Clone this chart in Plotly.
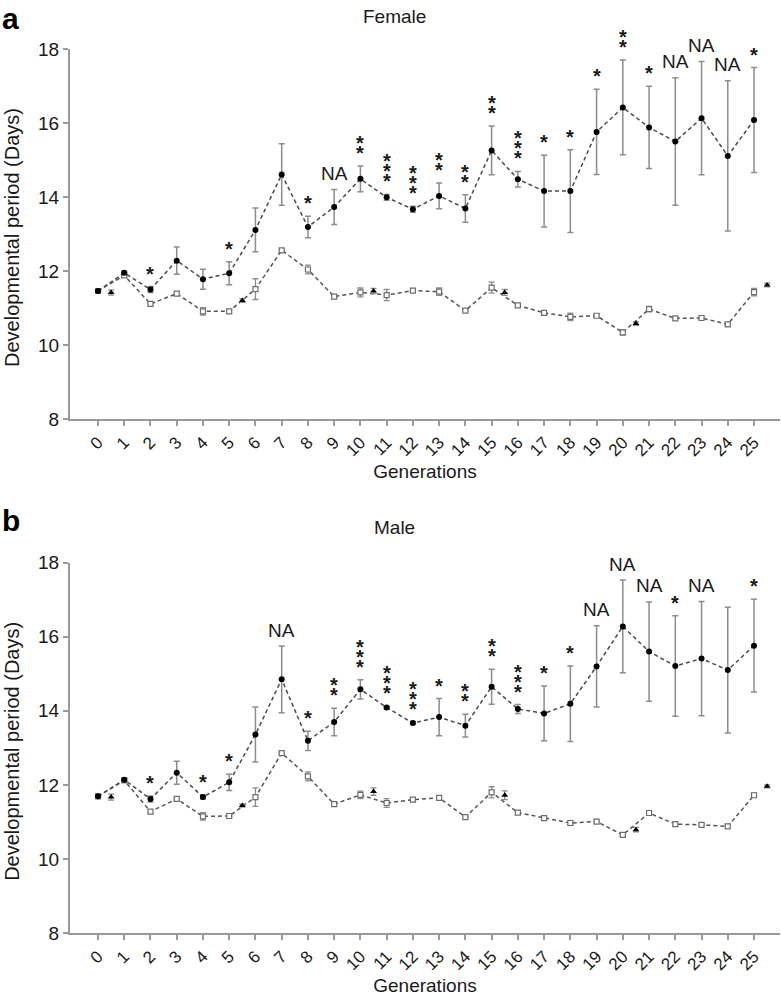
import plotly.graph_objects as go

# ---------------- data ----------------
gens = list(range(26))
tick_labels = [str(g) for g in gens]
ctrl_x = [0.5, 5.5, 10.5, 15.5, 20.5, 25.5]

# Female – selected line (filled circles)
f_sel = [11.46, 11.95, 11.50, 12.28, 11.78, 11.94, 13.11, 14.61, 13.19, 13.73, 14.49, 13.99, 13.67,
         14.03, 13.69, 15.26, 14.48, 14.16, 14.16, 15.76, 16.42, 15.88, 15.50, 16.13, 15.11, 16.08]
f_sel_err = [0.05, 0.04, 0.08, 0.37, 0.27, 0.31, 0.59, 0.83, 0.29, 0.47, 0.35, 0.08, 0.08,
             0.35, 0.37, 0.66, 0.21, 0.97, 1.12, 1.15, 1.28, 1.11, 1.72, 1.53, 2.03, 1.42]
# Female – second line (open markers)
f_oth = [11.46, 11.88, 11.11, 11.39, 10.91, 10.91, 11.51, 12.56, 12.04, 11.31, 11.42, 11.35, 11.47,
         11.44, 10.93, 11.55, 11.07, 10.87, 10.76, 10.79, 10.34, 10.97, 10.72, 10.73, 10.56, 11.43]
f_oth_err = [0.05, 0.04, 0.04, 0.04, 0.10, 0.04, 0.28, 0.04, 0.12, 0.03, 0.12, 0.15, 0.04,
             0.10, 0.03, 0.15, 0.05, 0.03, 0.10, 0.04, 0.07, 0.07, 0.03, 0.04, 0.04, 0.10]
# Female – control (triangles)
f_ctrl = [11.42, 11.20, 11.46, 11.42, 10.58, 11.62]
f_ctrl_err = [0.07, 0.05, 0.07, 0.08, 0.05, 0.05]
f_sig = ["", "", "*", "", "", "*", "", "", "*", "NA", "**", "***", "***",
         "**", "**", "**", "***", "*", "*", "*", "**", "*", "NA", "NA", "NA", "*"]

# Male
m_sel = [11.69, 12.14, 11.62, 12.33, 11.67, 12.07, 13.36, 14.85, 13.19, 13.70, 14.58, 14.09, 13.67,
         13.83, 13.60, 14.65, 14.05, 13.93, 14.19, 15.20, 16.28, 15.60, 15.21, 15.41, 15.10, 15.76]
m_sel_err = [0.05, 0.04, 0.08, 0.31, 0.05, 0.22, 0.74, 0.90, 0.26, 0.37, 0.26, 0.03, 0.04,
             0.50, 0.31, 0.47, 0.12, 0.74, 1.02, 1.10, 1.25, 1.34, 1.36, 1.54, 1.70, 1.25]
m_oth = [11.69, 12.12, 11.28, 11.62, 11.15, 11.16, 11.67, 12.86, 12.23, 11.48, 11.73, 11.51, 11.60,
         11.65, 11.13, 11.80, 11.25, 11.10, 10.97, 11.01, 10.65, 11.24, 10.94, 10.92, 10.88, 11.72]
m_oth_err = [0.05, 0.04, 0.05, 0.03, 0.10, 0.03, 0.25, 0.03, 0.12, 0.03, 0.10, 0.12, 0.04,
             0.06, 0.03, 0.15, 0.03, 0.04, 0.06, 0.03, 0.03, 0.03, 0.05, 0.03, 0.05, 0.06]
m_ctrl = [11.67, 11.44, 11.82, 11.72, 10.79, 11.96]
m_ctrl_err = [0.08, 0.04, 0.10, 0.12, 0.06, 0.04]
m_sig = ["", "", "*", "", "*", "*", "", "NA", "*", "**", "***", "***", "***",
         "*", "**", "**", "***", "*", "*", "NA", "NA", "NA", "*", "NA", "", "*"]

y_ticks = [8, 10, 12, 14, 16, 18]

# ---------------- layout geometry ----------------
W, H = 781, 996
PL, PR, PT, PB = 70, 780, 49, 933
A_BOT = 419      # bottom of panel a
B_TOP = 562.7    # top of panel b
FONT = "Liberation Sans, Arial, Helvetica, sans-serif"
AX_COL = "#9a9a9a"
ERR_COL = "#8c8c8c"
TXT_COL = "#1a1a1a"


def paper_x(px):
    return (px - PL) / (PR - PL)


def paper_y(py):
    return (PB - py) / (PB - PT)


fig = go.Figure()


def add_panel(sel, sel_err, oth, oth_err, ctrl, ctrl_err, xa, ya):
    fig.add_trace(go.Scatter(
        x=gens, y=oth, mode="lines+markers", xaxis=xa, yaxis=ya,
        line=dict(color="#555555", width=1.5, dash="4px,3px"),
        marker=dict(symbol="square", size=5, color="white",
                    line=dict(color="#6e6e6e", width=1.2)),
        error_y=dict(type="data", array=oth_err, color=ERR_COL, thickness=1.3, width=3),
    ))
    fig.add_trace(go.Scatter(
        x=gens, y=sel, mode="lines+markers", xaxis=xa, yaxis=ya,
        line=dict(color="#4a4a4a", width=1.5, dash="4px,3px"),
        marker=dict(symbol="circle", size=6, color="black"),
        error_y=dict(type="data", array=sel_err, color=ERR_COL, thickness=1.5, width=3),
    ))
    fig.add_trace(go.Scatter(
        x=ctrl_x, y=ctrl, mode="markers", xaxis=xa, yaxis=ya, cliponaxis=False,
        marker=dict(symbol="triangle-up", size=6, color="black"),
        error_y=dict(type="data", array=ctrl_err, color=ERR_COL, thickness=1.3, width=3),
    ))


add_panel(f_sel, f_sel_err, f_oth, f_oth_err, f_ctrl, f_ctrl_err, "x", "y")
add_panel(m_sel, m_sel_err, m_oth, m_oth_err, m_ctrl, m_ctrl_err, "x2", "y2")

annotations = []


def add_sig(sel, sel_err, sig, xref, yref):
    for g, v, e, s in zip(gens, sel, sel_err, sig):
        if not s:
            continue
        if s == "NA":
            annotations.append(dict(x=g, y=v + e, xref=xref, yref=yref, text="NA",
                                    showarrow=False, yshift=16,
                                    font=dict(family=FONT, size=19, color=TXT_COL)))
        else:
            for j in range(len(s)):
                annotations.append(dict(x=g, y=v + e, xref=xref, yref=yref, text="<b>*</b>",
                                        showarrow=False, yshift=13 + 10 * j,
                                        font=dict(family=FONT, size=20, color=TXT_COL)))


add_sig(f_sel, f_sel_err, f_sig, "x", "y")
add_sig(m_sel, m_sel_err, m_sig, "x2", "y2")

# titles, y-axis titles and panel letters
for txt, py in (("Female", 17), ("Male", 527)):
    annotations.append(dict(x=paper_x(394), y=paper_y(py), xref="paper", yref="paper",
                            text=txt, showarrow=False, xanchor="center", yanchor="middle",
                            font=dict(family=FONT, size=19, color=TXT_COL)))
for py in ((PT + A_BOT) / 2 + 4, (B_TOP + PB) / 2 + 4):
    annotations.append(dict(x=paper_x(12), y=paper_y(py), xref="paper", yref="paper",
                            text="Developmental period (Days)", textangle=-90,
                            showarrow=False, xanchor="center", yanchor="middle",
                            font=dict(family=FONT, size=20, color=TXT_COL)))
for txt, py in (("a", 0), ("b", 502)):
    annotations.append(dict(x=paper_x(0), y=paper_y(py), xref="paper", yref="paper",
                            text="<b>" + txt + "</b>", showarrow=False,
                            xanchor="left", yanchor="top",
                            font=dict(family=FONT, size=30, color="black")))

xaxis_common = dict(
    range=[-1.067, 25.99], tickmode="array", tickvals=gens, ticktext=tick_labels,
    tickangle=-45, ticks="outside", ticklen=5, tickwidth=1.5, tickcolor=AX_COL,
    showline=True, linecolor=AX_COL, linewidth=2, showgrid=False, zeroline=False,
    tickfont=dict(family=FONT, size=17, color=TXT_COL), automargin=False,
    title=dict(text="Generations", font=dict(family=FONT, size=19, color=TXT_COL), standoff=6),
)
yaxis_common = dict(
    range=[8, 18], tickmode="array", tickvals=y_ticks, ticktext=[str(t) for t in y_ticks],
    ticks="outside", ticklen=5, tickwidth=1.5, tickcolor=AX_COL,
    showline=True, linecolor=AX_COL, linewidth=2, showgrid=False, zeroline=False,
    tickfont=dict(family=FONT, size=19, color=TXT_COL), automargin=False,
)

fig.update_layout(
    width=W, height=H,
    margin=dict(l=PL, r=W - PR, t=PT, b=H - PB),
    paper_bgcolor="white", plot_bgcolor="white",
    showlegend=False,
    xaxis=dict(xaxis_common, anchor="y", domain=[0, 1]),
    yaxis=dict(yaxis_common, anchor="x", domain=[paper_y(A_BOT), 1]),
    xaxis2=dict(xaxis_common, anchor="y2", domain=[0, 1]),
    yaxis2=dict(yaxis_common, anchor="x2", domain=[0, paper_y(B_TOP)]),
    annotations=annotations,
)

fig.write_html("out.html", config={"displayModeBar": False},
               post_script="document.body.style.margin='0';")
